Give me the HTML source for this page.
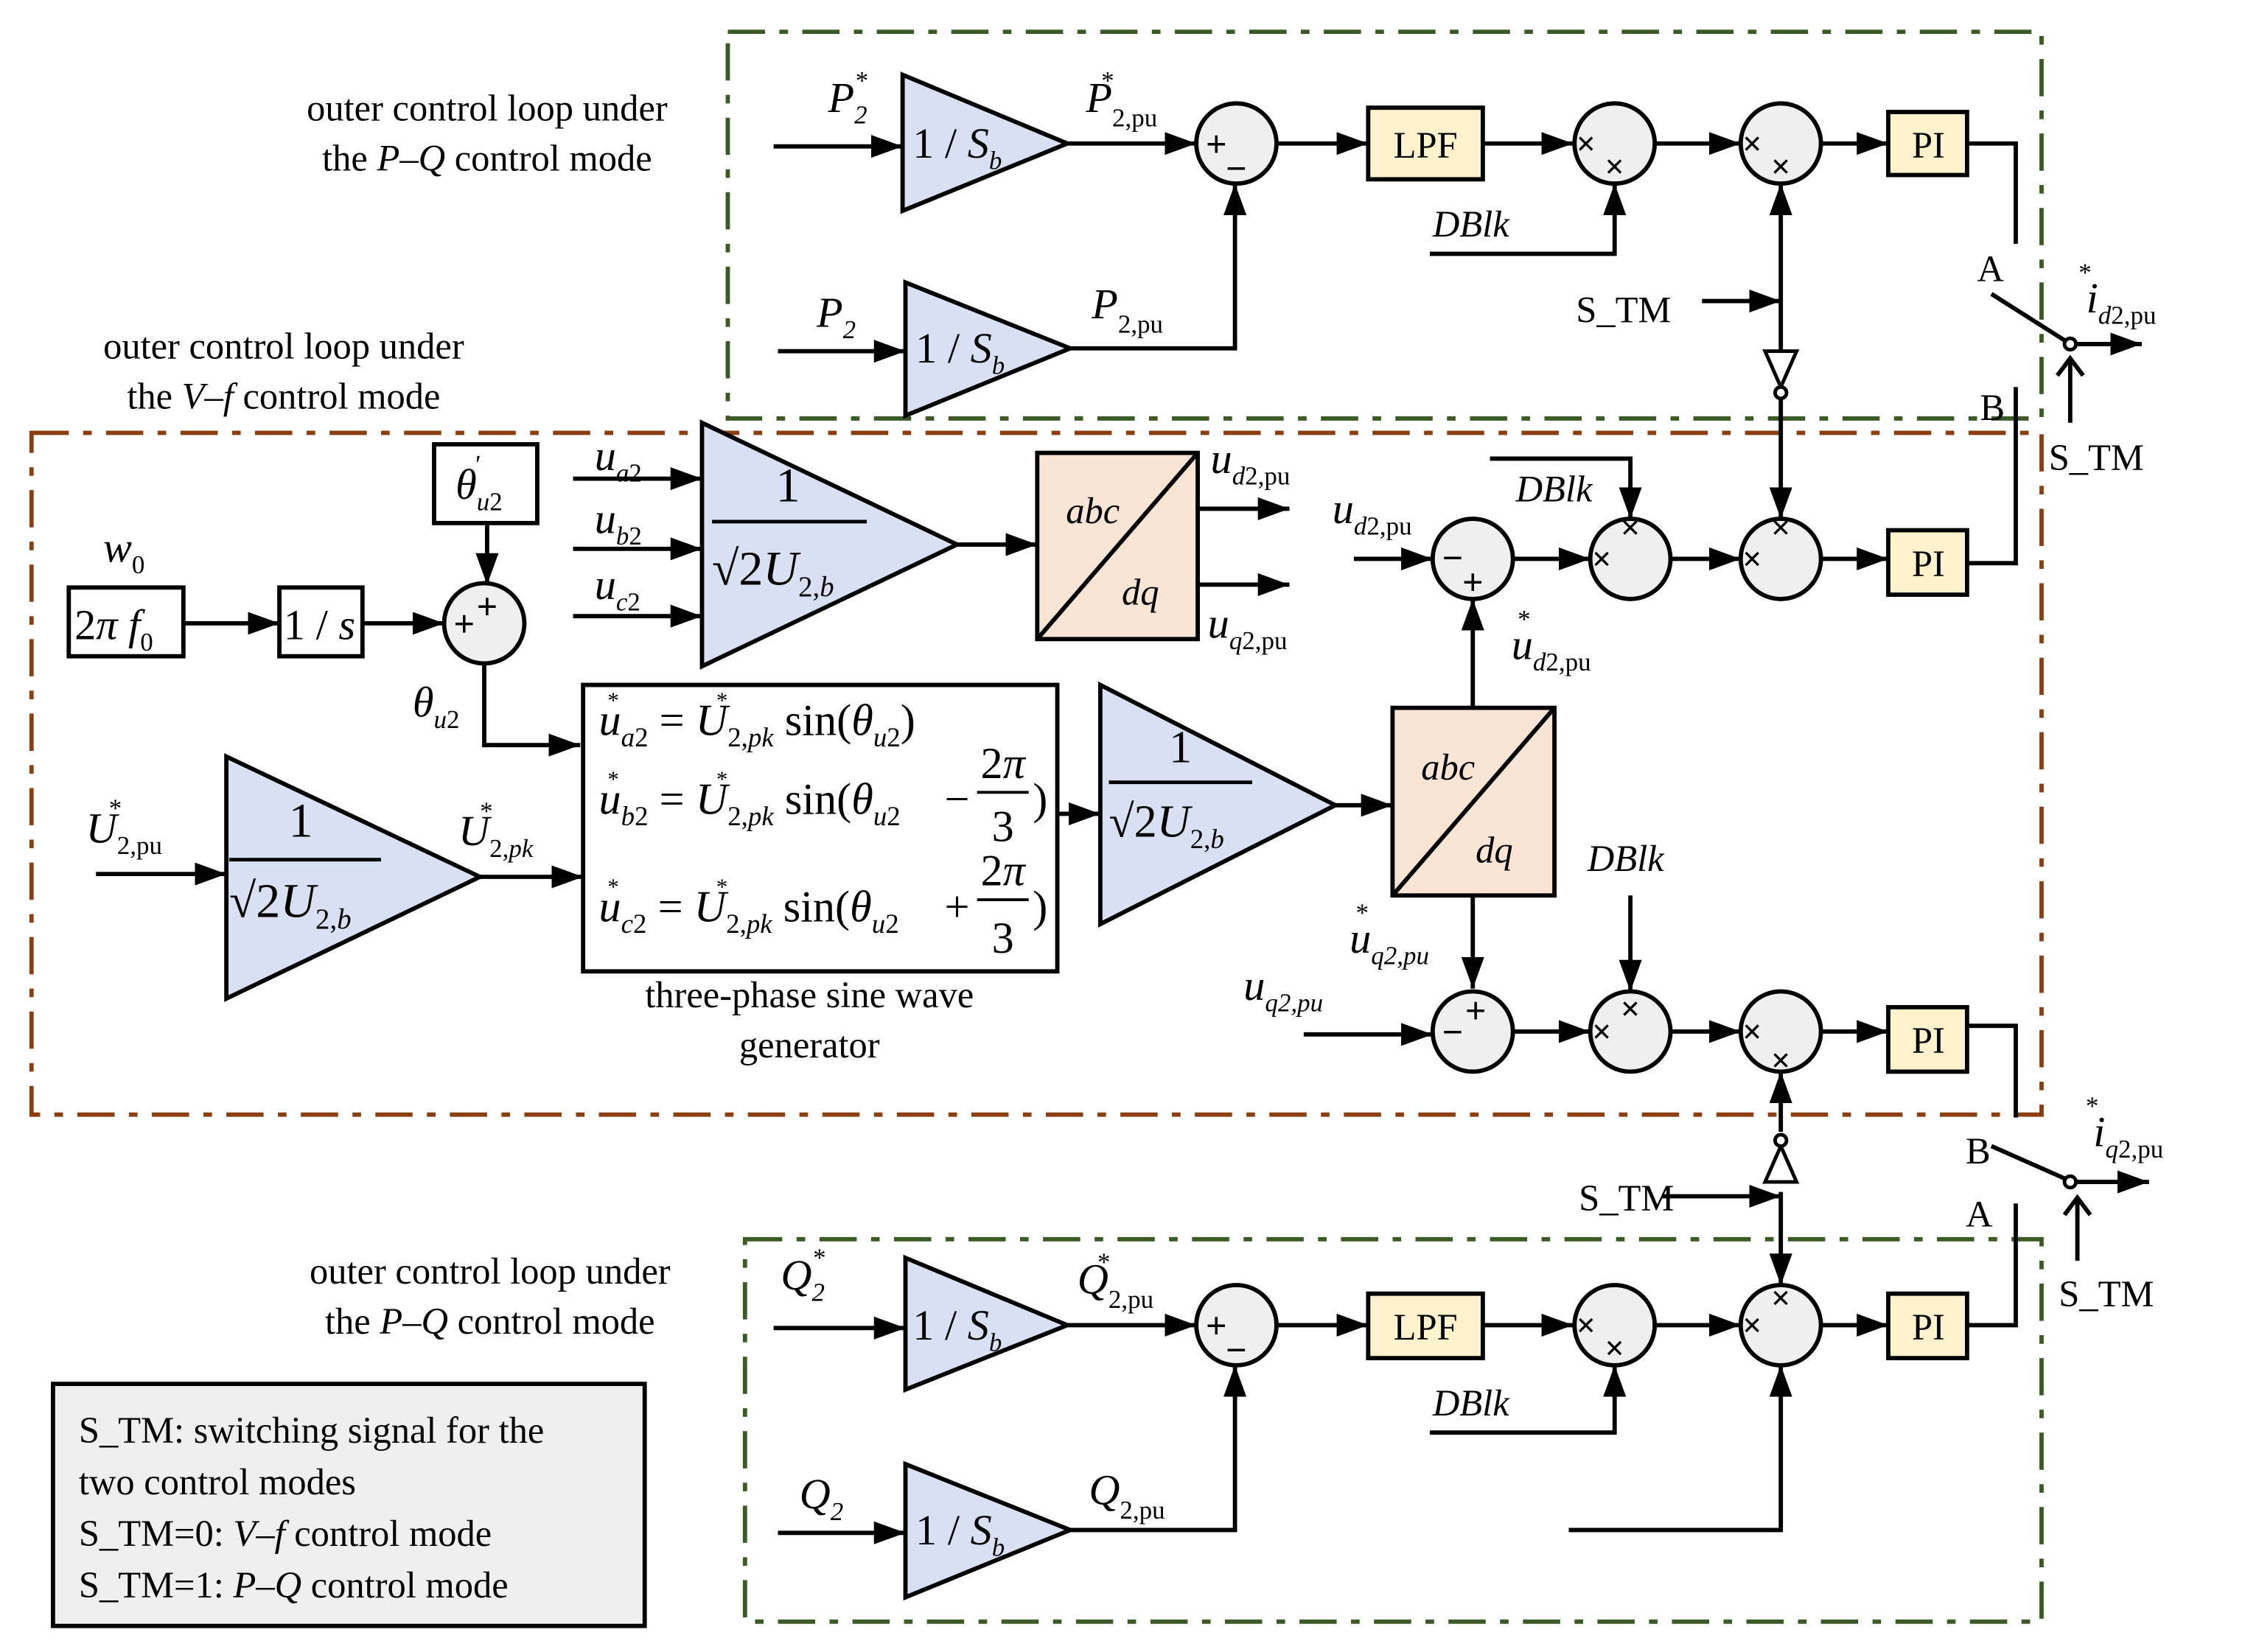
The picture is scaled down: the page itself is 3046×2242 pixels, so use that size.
<!DOCTYPE html>
<html><head><meta charset="utf-8"><style>
html,body{margin:0;padding:0;background:#fff}
svg{display:block}
text{font-family:"Liberation Serif",serif;fill:#000}
.i{font-style:italic}
</style></head><body>
<svg width="3046" height="2242" viewBox="0 0 1567 1153" xmlns="http://www.w3.org/2000/svg">
<defs>
<marker id="ar" viewBox="0 0 22 16" refX="22" refY="8" markerWidth="22" markerHeight="16" orient="auto" markerUnits="userSpaceOnUse"><path d="M0,0 L22,8 L0,16 z" fill="#000"/></marker>
</defs>
<g fill="none" stroke-width="3">
<rect x="508" y="22" width="917" height="270" stroke="#3b5a26" stroke-dasharray="26,10,6,10"/>
<rect x="22" y="302" width="1403" height="476" stroke="#8b3f10" stroke-dasharray="26,10,6,10"/>
<rect x="520" y="865" width="905" height="267" stroke="#3b5a26" stroke-dasharray="26,10,6,10"/>
</g>
<g stroke="#000" stroke-width="3" fill="none" marker-end="url(#ar)">
<path d="M540,102H630"/><path d="M745,100H835"/><path d="M891,100H955"/><path d="M1035,100H1098"/><path d="M1155,100H1215"/><path d="M1271,100H1318"/>
<path d="M543,245H632"/><path d="M747,243H862V128"/><path d="M998,177H1127V128"/><path d="M1188,210H1243"/>
<path d="M1243,245V128"/><path d="M1243,278V362"/>
<path d="M1445,240H1495"/>
<path d="M340,365V408"/><path d="M128,435H195"/><path d="M253,435H310"/><path d="M338,463V520H405"/>
<path d="M400,334H490"/><path d="M400,383H490"/><path d="M400,430H490"/><path d="M668,380H724"/>
<path d="M836,355H900"/><path d="M836,408H900"/>
<path d="M67,610H158"/><path d="M335,612H407"/><path d="M738,568H768"/><path d="M932,562H972"/>
<path d="M1028,494V418"/><path d="M1028,625V690"/>
<path d="M945,390H1000"/><path d="M1056,390H1110"/><path d="M1040,320H1138V362"/><path d="M1166,390H1215"/><path d="M1271,390H1318"/>
<path d="M910,722H1000"/><path d="M1056,720H1110"/><path d="M1138,625V692"/><path d="M1166,720H1215"/><path d="M1271,720H1318"/>
<path d="M1243,790V748"/><path d="M1243,832V897"/><path d="M1160,835H1243"/>
<path d="M1445,825H1500"/>
<path d="M540,927H632"/><path d="M745,925H835"/><path d="M891,925H955"/><path d="M1035,925H1098"/><path d="M1155,925H1215"/><path d="M1271,925H1318"/>
<path d="M543,1070H632"/><path d="M747,1068H862V953"/><path d="M998,1000H1127V953"/><path d="M1095,1068H1243V953"/>
</g>
<g stroke="#000" stroke-width="3" fill="none">
<path d="M1445,295V252"/><path d="M1450,880V838"/>
<path d="M1373,100H1407V170"/><path d="M1407,270V393H1373"/><path d="M1390,205L1442,238"/>
<path d="M1373,716H1407V780"/><path d="M1407,840V925H1373"/><path d="M1390,800L1442,823"/>
<path d="M1436,262L1445,250L1454,262"/><path d="M1441,848L1450,836L1459,848"/>
</g>
<g fill="#fff" stroke="#000" stroke-width="2.5">
<circle cx="1445" cy="240" r="4"/><circle cx="1445" cy="825" r="4"/>
<path d="M1232,245H1254L1243,270Z"/><circle cx="1243" cy="274" r="4"/>
<path d="M1232,825H1254L1243,800Z"/><circle cx="1243" cy="796" r="4"/>
</g>
<g fill="#d9e0f4" stroke="#000" stroke-width="3">
<path d="M630,52V147L745,100Z"/><path d="M632,197V290L747,243Z"/>
<path d="M490,295V465L668,380Z"/><path d="M158,528V697L335,612Z"/><path d="M768,478V645L932,562Z"/>
<path d="M632,878V970L745,925Z"/><path d="M632,1022V1115L747,1068Z"/>
</g>
<g fill="#efefef" stroke="#000" stroke-width="3">
<circle cx="863" cy="100" r="28"/><circle cx="1127" cy="100" r="28"/><circle cx="1243" cy="100" r="28"/>
<circle cx="338" cy="435" r="28"/>
<circle cx="1028" cy="390" r="28"/><circle cx="1138" cy="390" r="28"/><circle cx="1243" cy="390" r="28"/>
<circle cx="1028" cy="720" r="28"/><circle cx="1138" cy="720" r="28"/><circle cx="1243" cy="720" r="28"/>
<circle cx="863" cy="925" r="28"/><circle cx="1127" cy="925" r="28"/><circle cx="1243" cy="925" r="28"/>
</g>
<g stroke="#000" stroke-width="3">
<rect x="955" y="75" width="80" height="50" fill="#fff2cc"/><rect x="1318" y="78" width="55" height="44" fill="#fff2cc"/>
<rect x="1318" y="370" width="55" height="45" fill="#fff2cc"/><rect x="1318" y="703" width="55" height="45" fill="#fff2cc"/>
<rect x="955" y="903" width="80" height="45" fill="#fff2cc"/><rect x="1318" y="903" width="55" height="45" fill="#fff2cc"/>
<rect x="303" y="310" width="72" height="55" fill="#fff"/><rect x="48" y="410" width="80" height="48" fill="#fff"/><rect x="195" y="410" width="58" height="48" fill="#fff"/>
<rect x="724" y="316" width="112" height="130" fill="#fae5d5"/><path d="M724,446L836,316" fill="none"/>
<rect x="972" y="494" width="113" height="131" fill="#fae5d5"/><path d="M972,625L1085,494" fill="none"/>
<rect x="407" y="478" width="331" height="200" fill="#fff"/>
<rect x="37" y="966" width="413" height="169" fill="#efefef"/>
</g>
<g font-size="26" font-weight="bold" font-family="Liberation Sans" text-anchor="middle">
<text x="849" y="109">+</text><text x="863" y="126">−</text>
<text x="849" y="934">+</text><text x="863" y="951">−</text>
<text x="324" y="444">+</text><text x="340" y="432">+</text>
<text x="1014" y="398">−</text><text x="1028" y="415">+</text>
<text x="1014" y="729">−</text><text x="1030" y="714">+</text>
</g>
<g font-size="24" font-weight="bold" font-family="Liberation Sans" text-anchor="middle">
<text x="1107" y="108">×</text><text x="1127" y="124">×</text><text x="1223" y="108">×</text><text x="1243" y="124">×</text>
<text x="1118" y="398">×</text><text x="1138" y="376">×</text><text x="1223" y="398">×</text><text x="1243" y="376">×</text>
<text x="1118" y="728">×</text><text x="1138" y="712">×</text><text x="1223" y="728">×</text><text x="1243" y="748">×</text>
<text x="1107" y="933">×</text><text x="1127" y="949">×</text><text x="1223" y="933">×</text><text x="1243" y="914">×</text>
</g>
<g font-size="26">
<text x="340" y="84" text-anchor="middle">outer control loop under</text>
<text x="340" y="119" text-anchor="middle">the <tspan class="i">P</tspan>–<tspan class="i">Q</tspan> control mode</text>
<text x="198" y="250" text-anchor="middle">outer control loop under</text>
<text x="198" y="285" text-anchor="middle">the <tspan class="i">V</tspan>–<tspan class="i">f</tspan> control mode</text>
<text x="342" y="896" text-anchor="middle">outer control loop under</text>
<text x="342" y="931" text-anchor="middle">the <tspan class="i">P</tspan>–<tspan class="i">Q</tspan> control mode</text>
<text x="565" y="703" text-anchor="middle">three-phase sine wave</text>
<text x="565" y="738" text-anchor="middle">generator</text>
<text x="55" y="1007">S_TM: switching signal for the</text>
<text x="55" y="1043">two control modes</text>
<text x="55" y="1079">S_TM=0: <tspan class="i">V</tspan>–<tspan class="i">f</tspan> control mode</text>
<text x="55" y="1115">S_TM=1: <tspan class="i">P</tspan>–<tspan class="i">Q</tspan> control mode</text>
<text x="995" y="110" text-anchor="middle">LPF</text><text x="995" y="935" text-anchor="middle">LPF</text>
<text x="1346" y="110" text-anchor="middle">PI</text><text x="1346" y="402" text-anchor="middle">PI</text>
<text x="1346" y="735" text-anchor="middle">PI</text><text x="1346" y="935" text-anchor="middle">PI</text>
<text x="1100" y="225">S_TM</text><text x="1102" y="845">S_TM</text>
<text x="1430" y="328">S_TM</text><text x="1437" y="912">S_TM</text>
<text x="1380" y="196">A</text><text x="1382" y="293">B</text>
<text x="1372" y="812">B</text><text x="1372" y="856">A</text>
<text class="i" x="1000" y="165">DBlk</text><text class="i" x="1058" y="350">DBlk</text>
<text class="i" x="1108" y="608">DBlk</text><text class="i" x="1000" y="988">DBlk</text>
</g>
<g font-size="30">
<text x="578" y="78" class="i">P<tspan font-size="18" dy="8">2</tspan><tspan font-size="18" dx="-9" dy="-24">*</tspan></text>
<text x="570" y="228" class="i">P<tspan font-size="18" dy="8">2</tspan></text>
<text x="758" y="78" class="i">P<tspan font-size="18" dy="10" font-style="normal">2,pu</tspan><tspan font-size="18" dx="-40" dy="-26">*</tspan></text>
<text x="762" y="222" class="i">P<tspan font-size="18" dy="10" font-style="normal">2,pu</tspan></text>
<text x="637" y="110">1 / <tspan class="i">S</tspan><tspan font-size="18" class="i" dy="8">b</tspan></text>
<text x="639" y="253">1 / <tspan class="i">S</tspan><tspan font-size="18" class="i" dy="8">b</tspan></text>
<text x="637" y="935">1 / <tspan class="i">S</tspan><tspan font-size="18" class="i" dy="8">b</tspan></text>
<text x="639" y="1078">1 / <tspan class="i">S</tspan><tspan font-size="18" class="i" dy="8">b</tspan></text>
<text x="545" y="900" class="i">Q<tspan font-size="18" dy="8">2</tspan><tspan font-size="18" dx="-9" dy="-24">*</tspan></text>
<text x="558" y="1053" class="i">Q<tspan font-size="18" dy="8">2</tspan></text>
<text x="752" y="903" class="i">Q<tspan font-size="18" dy="10" font-style="normal">2,pu</tspan><tspan font-size="18" dx="-40" dy="-26">*</tspan></text>
<text x="760" y="1050" class="i">Q<tspan font-size="18" dy="10" font-style="normal">2,pu</tspan></text>
<text x="1450" y="218" class="i">i<tspan font-size="18" dy="8">d</tspan><tspan font-size="18" font-style="normal">2,pu</tspan><tspan font-size="18" dx="-55" dy="-30">*</tspan></text>
<text x="1455" y="800" class="i">i<tspan font-size="18" dy="8">q</tspan><tspan font-size="18" font-style="normal">2,pu</tspan><tspan font-size="18" dx="-55" dy="-30">*</tspan></text>
<text x="72" y="392" class="i">w<tspan font-size="18" dy="8" font-style="normal">0</tspan></text>
<text x="52" y="446">2<tspan class="i">π f</tspan><tspan font-size="18" dy="8">0</tspan></text>
<text x="198" y="446">1 / <tspan class="i">s</tspan></text>
<text x="318" y="348" class="i">θ<tspan font-size="18" dy="8">u</tspan><tspan font-size="18" font-style="normal">2</tspan><tspan font-size="18" dx="-20" dy="-26">'</tspan></text>
<text x="288" y="500" class="i">θ<tspan font-size="18" dy="8">u</tspan><tspan font-size="18" font-style="normal">2</tspan></text>
<text x="415" y="328" class="i">u<tspan font-size="18" dy="8">a</tspan><tspan font-size="18" font-style="normal">2</tspan></text>
<text x="415" y="372" class="i">u<tspan font-size="18" dy="8">b</tspan><tspan font-size="18" font-style="normal">2</tspan></text>
<text x="415" y="418" class="i">u<tspan font-size="18" dy="8">c</tspan><tspan font-size="18" font-style="normal">2</tspan></text>
<text x="550" y="350" text-anchor="middle" font-size="34">1</text><path d="M497,364H605" stroke="#000" stroke-width="2.5"/>
<text x="497" y="408" font-size="34">√2<tspan class="i">U</tspan><tspan font-size="20" dy="8">2,<tspan class="i">b</tspan></tspan></text>
<text x="210" y="584" text-anchor="middle" font-size="34">1</text><path d="M160,600H266" stroke="#000" stroke-width="2.5"/>
<text x="160" y="640" font-size="34">√2<tspan class="i">U</tspan><tspan font-size="20" dy="8">2,<tspan class="i">b</tspan></tspan></text>
<text x="824" y="532" text-anchor="middle" font-size="32">1</text><path d="M774,546H874" stroke="#000" stroke-width="2.5"/>
<text x="774" y="584" font-size="32">√2<tspan class="i">U</tspan><tspan font-size="19" dy="8">2,<tspan class="i">b</tspan></tspan></text>
<text x="744" y="365" class="i" font-size="26">abc</text><text x="783" y="422" class="i" font-size="26">dq</text>
<text x="992" y="544" class="i" font-size="26">abc</text><text x="1030" y="602" class="i" font-size="26">dq</text>
<text x="845" y="330" class="i">u<tspan font-size="18" dy="8">d</tspan><tspan font-size="18" font-style="normal">2,pu</tspan></text>
<text x="843" y="445" class="i">u<tspan font-size="18" dy="8">q</tspan><tspan font-size="18" font-style="normal">2,pu</tspan></text>
<text x="930" y="365" class="i">u<tspan font-size="18" dy="8">d</tspan><tspan font-size="18" font-style="normal">2,pu</tspan></text>
<text x="1055" y="460" class="i">u<tspan font-size="18" dy="8">d</tspan><tspan font-size="18" font-style="normal">2,pu</tspan><tspan font-size="18" dx="-52" dy="-30">*</tspan></text>
<text x="942" y="665" class="i">u<tspan font-size="18" dy="8">q</tspan><tspan font-size="18">2,pu</tspan><tspan font-size="18" dx="-52" dy="-30">*</tspan></text>
<text x="868" y="698" class="i">u<tspan font-size="18" dy="8">q</tspan><tspan font-size="18">2,pu</tspan></text>
<text x="60" y="588" class="i">U<tspan font-size="18" dy="8" font-style="normal">2,pu</tspan><tspan font-size="18" dx="-38" dy="-26">*</tspan></text>
<text x="320" y="590" class="i">U<tspan font-size="18" dy="8" font-style="normal">2,</tspan><tspan font-size="18">pk</tspan><tspan font-size="18" dx="-38" dy="-26">*</tspan></text>
</g>
<g font-size="31">
<text x="418" y="513" class="i">u<tspan font-size="19" dy="8">a</tspan><tspan font-size="19" font-style="normal">2</tspan><tspan font-style="normal" dy="-8"> = </tspan>U<tspan font-size="19" dy="8" font-style="normal">2,</tspan><tspan font-size="19">pk</tspan><tspan font-style="normal" dy="-8"> sin(</tspan>θ<tspan font-size="19" dy="8">u</tspan><tspan font-size="19" font-style="normal">2</tspan><tspan font-style="normal" dy="-8">)</tspan></text>
<text x="418" y="568" class="i">u<tspan font-size="19" dy="8">b</tspan><tspan font-size="19" font-style="normal">2</tspan><tspan font-style="normal" dy="-8"> = </tspan>U<tspan font-size="19" dy="8" font-style="normal">2,</tspan><tspan font-size="19">pk</tspan><tspan font-style="normal" dy="-8"> sin(</tspan>θ<tspan font-size="19" dy="8">u</tspan><tspan font-size="19" font-style="normal">2</tspan></text>
<text x="418" y="643" class="i">u<tspan font-size="19" dy="8">c</tspan><tspan font-size="19" font-style="normal">2</tspan><tspan font-style="normal" dy="-8"> = </tspan>U<tspan font-size="19" dy="8" font-style="normal">2,</tspan><tspan font-size="19">pk</tspan><tspan font-style="normal" dy="-8"> sin(</tspan>θ<tspan font-size="19" dy="8">u</tspan><tspan font-size="19" font-style="normal">2</tspan></text>
<text x="668" y="568" text-anchor="middle">−</text><text x="668" y="643" text-anchor="middle">+</text>
<text x="726" y="568" text-anchor="middle">)</text><text x="726" y="643" text-anchor="middle">)</text>
<text x="700" y="543" text-anchor="middle">2<tspan class="i">π</tspan></text><path d="M682,553H718" stroke="#000" stroke-width="2"/><text x="700" y="587" text-anchor="middle">3</text>
<text x="700" y="618" text-anchor="middle">2<tspan class="i">π</tspan></text><path d="M682,628H718" stroke="#000" stroke-width="2"/><text x="700" y="665" text-anchor="middle">3</text>
<g font-size="16"><text x="424" y="494">*</text><text x="500" y="494">*</text><text x="424" y="549">*</text><text x="500" y="549">*</text><text x="424" y="624">*</text><text x="500" y="624">*</text></g>
</g>
</svg>
</body></html>
